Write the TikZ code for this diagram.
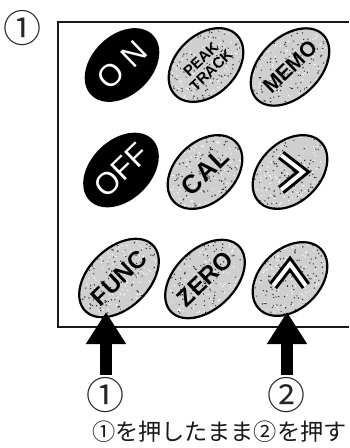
\documentclass[tikz,border=0pt]{standalone}
\usepackage{fontspec}
\setmainfont{Liberation Sans}
\newfontfamily\jpfont{Noto Sans CJK JP}
\usetikzlibrary{shapes.geometric,arrows.meta}
\pgfmathsetseed{7}
\tikzset{
  x=1pt,y=-1pt,
  btn/.style={ellipse,inner sep=0pt,minimum width=86pt,minimum height=60pt,rotate=44,transform shape},
  onbtn/.style={btn,fill=black,text=white,font=\fontsize{31}{31}\selectfont},
  grey/.style={btn,draw=black,line width=2.2pt,fill=gray!38,font=\bfseries\fontsize{24}{24}\selectfont,
    path picture={
      \foreach \i in {1,...,260}{
        \pgfmathsetmacro{\px}{rnd*88-44}\pgfmathsetmacro{\py}{rnd*64-32}
        \pgfmathsetmacro{\pc}{rnd>0.45?80:0}
        \fill[black!\pc!white] (path picture bounding box.center) ++(\px pt,\py pt) circle (0.8pt);
      }}},
  frameline/.style={line width=2.2pt,black!90},
  pusharrow/.style={line width=12.5pt,black,-{Triangle[width=38pt,length=32pt]}},
  circled/.style={font=\jpfont\fontsize{38}{38}\selectfont,text=black!85,inner sep=0pt},
  caption/.style={font=\jpfont\fontsize{23.2}{24}\selectfont,text=black!90,inner sep=0pt,anchor=west},
  chev/.style={line width=10pt,black,line cap=butt,line join=miter},
  chevi/.style={line width=4pt,white,line cap=butt,line join=miter}
}
\begin{document}
\begin{tikzpicture}
\useasboundingbox (0,0) rectangle (349,448);
\draw[frameline] (349,22) -- (58,22) -- (58,327) -- (349,327);
\node[onbtn] (on) at (122,65) {O N};
\node[grey,font=\bfseries\fontsize{15}{15}\selectfont,align=center] (peak) at (206,65) {PEAK\\TRACK};
\node[grey,font=\bfseries\fontsize{21}{21}\selectfont] (memo) at (290,67) {MEMO};
\node[onbtn] (off) at (121,170) {OFF};
\node[grey,font=\bfseries\fontsize{26}{26}\selectfont] (cal) at (205,172) {CAL};
\node[grey] (next) at (290,172) {};
\node[grey] (func) at (119,278) {FUNC};
\node[grey] (zero) at (205,279) {ZERO};
\node[grey] (prev) at (290,279) {};
% outlined chevrons
\begin{scope}[shift={(next.center)}]
  \draw[chev] (-9,-17) -- (13,0) -- (-9,18);
  \draw[chevi] (-9,-17) -- (13,0) -- (-9,18);
\end{scope}
\begin{scope}[shift={(prev.center)}]
  \draw[chev] (-17,7) -- (0,-15) -- (16,7);
  \draw[chevi] (-17,7) -- (0,-15) -- (16,7);
\end{scope}
\node[circled] (mark) at (22.7,27.7) {①};
\node[circled] (one) at (105,395) {①};
\node[circled] (two) at (286,395) {②};
\coordinate (tipa) at (106,312);
\coordinate (taila) at (106,375);
\coordinate (tipb) at (287,312);
\coordinate (tailb) at (287,375);
\draw[pusharrow] (taila) -- (tipa);
\draw[pusharrow] (tailb) -- (tipb);
\node[caption] (note) at (92,432) {①を押したまま②を押す};
\end{tikzpicture}
\end{document}
